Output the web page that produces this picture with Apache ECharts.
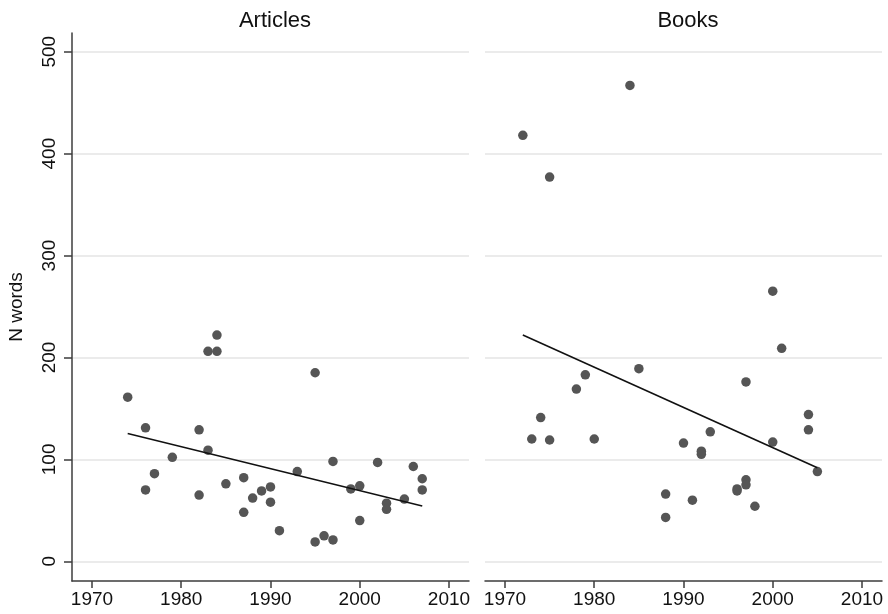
<!DOCTYPE html>
<html>
<head>
<meta charset="utf-8">
<script src="https://cdn.jsdelivr.net/npm/echarts@6/dist/echarts.min.js"></script>
<style>
html,body{margin:0;padding:0;background:#fff;}
#chart{width:888px;height:614px;}
</style>
</head>
<body>
<div id="chart"></div>
<script>
// Panel titles
const panelTitles = ["Articles", "Books"];
const yAxisName = "N words";
const yTicks = [0, 100, 200, 300, 400, 500];
const xTicks = [1970, 1980, 1990, 2000, 2010];

// Articles: [year, N words]
const articlesPoints = [
  [1974,161],[1976,131],[1976,70],[1977,86],[1979,102],[1982,129],[1982,65],
  [1983,206],[1984,206],[1984,222],[1983,109],[1985,76],[1987,82],[1987,48],
  [1988,62],[1989,69],[1990,73],[1990,58],[1991,30],[1993,88],[1995,185],
  [1995,19],[1996,25],[1997,21],[1997,98],[1999,71],[2000,74],[2000,40],
  [2002,97],[2003,57],[2003,51],[2005,61],[2006,93],[2007,81],[2007,70]
];
// Articles fitted line endpoints
const articlesFit = [[1974,125.4],[2007,54.3]];

// Books: [year, N words]
const booksPoints = [
  [1972,418],[1975,377],[1984,467],[2000,265],[2001,209],[1985,189],[1979,183],
  [1978,169],[1997,176],[1974,141],[1973,120],[1975,119],[1980,120],[2004,144],
  [2004,129],[1993,127],[1990,116],[2000,117],[1992,108],[1992,105],[2005,88],
  [1988,66],[1988,43],[1991,60],[1996,71],[1996,69],[1997,80],[1997,75],[1998,54]
];
// Books fitted line endpoints
const booksFit = [[1972,222],[2005,91.7]];

const FONT = "'Liberation Sans', Arial, Helvetica, sans-serif";
const AX = "#3c3c3c";
const GRID = "#e4e4e4";
const DOT = "#555555";
const TXT = "#111";

const chart = echarts.init(document.getElementById('chart'), null, {renderer:'canvas'});

function xAxisCfg(idx){
  return {
    gridIndex: idx, type:'value', min:1967.76, max:2012.24,
    axisLine:{show:true, onZero:false, lineStyle:{color:AX, width:1.5}},
    axisTick:{show:true, length:7, lineStyle:{color:AX, width:1.5}, customValues:xTicks},
    axisLabel:{show:true, customValues:xTicks, formatter:(v)=>String(v), fontSize:19, color:TXT, fontFamily:FONT, margin:9},
    splitLine:{show:false}
  };
}
function yAxisCfg(idx, show){
  const o = {
    gridIndex: idx, type:'value', min:-19.35, max:518.4,
    axisLine:{show:show, onZero:false, lineStyle:{color:AX, width:1.5}},
    axisTick:{show:show, length:8, lineStyle:{color:AX, width:1.5}, customValues:yTicks},
    axisLabel:{show:show, customValues:yTicks, formatter:(v)=>String(v), rotate:90, fontSize:19, color:TXT, fontFamily:FONT, margin:13},
    splitLine:{show:true, lineStyle:{color:GRID, width:1.5}}
  };
  if (show){
    o.name = yAxisName;
    o.nameLocation = 'middle';
    o.nameGap = 46;
    o.nameRotate = 90;
    o.nameTextStyle = {fontSize:19, color:TXT, fontFamily:FONT};
  }
  return o;
}

const option = {
  backgroundColor:'#fff',
  animation:false,
  title:[
    {text:panelTitles[0], left:270, top:5, textAlign:'center', textStyle:{fontSize:22, fontWeight:'normal', color:TXT, fontFamily:FONT}},
    {text:panelTitles[1], left:683, top:5, textAlign:'center', textStyle:{fontSize:22, fontWeight:'normal', color:TXT, fontFamily:FONT}}
  ],
  grid:[
    {left:72, top:33, width:397, height:548},
    {left:485, top:33, width:397, height:548}
  ],
  xAxis:[xAxisCfg(0), xAxisCfg(1)],
  yAxis:[yAxisCfg(0,true), yAxisCfg(1,false)],
  series:[
    {type:'scatter', xAxisIndex:0, yAxisIndex:0, data:articlesPoints, symbolSize:9.5, itemStyle:{color:DOT, opacity:1}},
    {type:'line', xAxisIndex:0, yAxisIndex:0, data:articlesFit, showSymbol:false, lineStyle:{color:'#111', width:1.6}},
    {type:'scatter', xAxisIndex:1, yAxisIndex:1, data:booksPoints, symbolSize:9.5, itemStyle:{color:DOT, opacity:1}},
    {type:'line', xAxisIndex:1, yAxisIndex:1, data:booksFit, showSymbol:false, lineStyle:{color:'#111', width:1.6}}
  ]
};
chart.setOption(option);
</script>
</body>
</html>
